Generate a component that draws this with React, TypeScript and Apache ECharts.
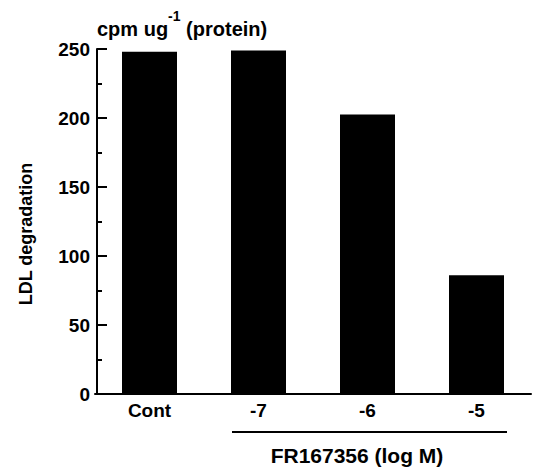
import React, { useEffect, useRef } from "react";
import * as echarts from "echarts";

const categories = ["Cont", "-7", "-6", "-5"];
const values = [248, 249, 202.5, 86];
const yTicks = [0, 50, 100, 150, 200, 250];
const yTitle = "LDL degradation";
const unitMain = "cpm ug";
const unitSup = "-1";
const unitTail = " (protein)";
const groupLabel = "FR167356 (log M)";

export default function App() {
  const ref = useRef<HTMLDivElement>(null);
  useEffect(() => {
    document.body.style.margin = "0";
    const chart = echarts.init(ref.current!, null, { renderer: "svg" });
    const font = "'Liberation Sans', Arial, Helvetica, sans-serif";
    chart.setOption({
      animation: false,
      backgroundColor: "#ffffff",
      grid: { left: 95, top: 49, width: 436, height: 345 },
      xAxis: {
        type: "category",
        data: categories,
        axisLine: { lineStyle: { color: "#000", width: 2 } },
        axisTick: { show: false },
        axisLabel: {
          color: "#000",
          fontFamily: font,
          fontWeight: "bold",
          fontSize: 19,
          margin: 7,
        },
      },
      yAxis: {
        type: "value",
        min: yTicks[0],
        max: yTicks[yTicks.length - 1],
        interval: yTicks[1] - yTicks[0],
        offset: -2,
        axisLine: { show: true, lineStyle: { color: "#000", width: 2 } },
        axisTick: { show: true, inside: true, length: 10, lineStyle: { color: "#000", width: 2 } },
        minorTick: { show: true, splitNumber: 2, length: 5, lineStyle: { color: "#000", width: 2 } },
        splitLine: { show: false },
        axisLabel: {
          color: "#000",
          fontFamily: font,
          fontWeight: "bold",
          fontSize: 19,
          margin: 7,
        },
      },
      series: [
        {
          type: "bar",
          data: values,
          barWidth: 55,
          itemStyle: { color: "#000" },
        },
      ],
      graphic: [
        {
          type: "text",
          left: 97,
          top: 9,
          style: {
            text: `{a|${unitMain}}{s|${unitSup}}{a|${unitTail}}`,
            rich: {
              a: { fontFamily: font, fontWeight: "bold", fontSize: 20, lineHeight: 30, fill: "#000", verticalAlign: "bottom" },
              s: { fontFamily: font, fontWeight: "bold", fontSize: 14, lineHeight: 14, fill: "#000", verticalAlign: "top" },
            },
          },
        },
        {
          type: "text",
          x: 26,
          y: 234,
          rotation: Math.PI / 2,
          style: {
            text: yTitle,
            fontFamily: font,
            fontWeight: "bold",
            fontSize: 18,
            fill: "#000",
            textAlign: "center",
            textVerticalAlign: "middle",
          },
        },
        {
          type: "line",
          shape: { x1: 232, y1: 432, x2: 507, y2: 432 },
          style: { stroke: "#000", lineWidth: 2 },
        },
        {
          type: "text",
          x: 357,
          y: 455,
          style: {
            text: groupLabel,
            fontFamily: font,
            fontWeight: "bold",
            fontSize: 21,
            fill: "#000",
            textAlign: "center",
            textVerticalAlign: "middle",
          },
        },
      ],
    });
    return () => chart.dispose();
  }, []);
  return <div ref={ref} style={{ width: 549, height: 467 }} />;
}
